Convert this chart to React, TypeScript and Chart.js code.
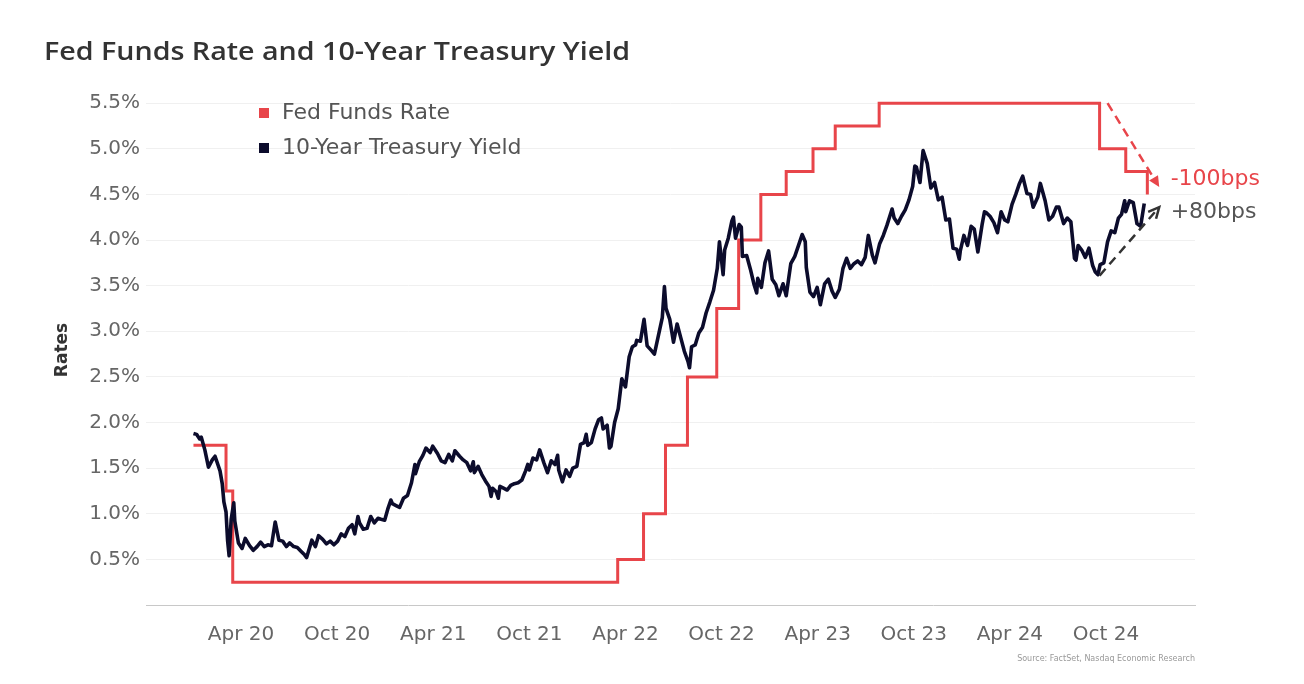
import React, { useEffect, useRef } from 'react';
import { Chart, registerables } from 'chart.js';

Chart.register(...registerables);

const TITLE = 'Fed Funds Rate and 10-Year Treasury Yield';
const SOURCE = 'Source: FactSet, Nasdaq Economic Research';
const Y_TITLE = 'Rates';
const FED_LABEL = 'Fed Funds Rate';
const UST_LABEL = '10-Year Treasury Yield';

const tickDates = ['2020-04-01', '2020-10-01', '2021-04-01', '2021-10-01', '2022-04-01', '2022-10-01', '2023-04-01', '2023-10-01', '2024-04-01', '2024-10-01'];
const tickLabels = ['Apr 20', 'Oct 20', 'Apr 21', 'Oct 21', 'Apr 22', 'Oct 22', 'Apr 23', 'Oct 23', 'Apr 24', 'Oct 24'];
const yTicks = [0.5, 1.0, 1.5, 2.0, 2.5, 3.0, 3.5, 4.0, 4.5, 5.0, 5.5];

// Fed funds (upper bound) changes
const fedDates = ['2020-01-02', '2020-03-03', '2020-03-16', '2022-03-17', '2022-05-05', '2022-06-16', '2022-07-28', '2022-09-22', '2022-11-03', '2022-12-15', '2023-02-02', '2023-03-23', '2023-05-04', '2023-07-27', '2024-09-19', '2024-11-08', '2024-12-19'];
const fedRates = [1.75, 1.25, 0.25, 0.5, 1.0, 1.75, 2.5, 3.25, 4.0, 4.5, 4.75, 5.0, 5.25, 5.5, 5.0, 4.75, 4.5];

// 10-year Treasury yield
const yield2020: [string, number][] = [
  ['2020-01-02', 1.88], ['2020-01-08', 1.87], ['2020-01-14', 1.82], ['2020-01-17', 1.84], ['2020-01-24', 1.7], ['2020-01-31', 1.51],
  ['2020-02-07', 1.59], ['2020-02-12', 1.63], ['2020-02-21', 1.47], ['2020-02-25', 1.33], ['2020-02-28', 1.13], ['2020-03-03', 1.02],
  ['2020-03-06', 0.71], ['2020-03-09', 0.54], ['2020-03-13', 0.94], ['2020-03-18', 1.12], ['2020-03-20', 0.92], ['2020-03-27', 0.68],
  ['2020-04-03', 0.62], ['2020-04-09', 0.73], ['2020-04-17', 0.65], ['2020-04-24', 0.6], ['2020-05-01', 0.64], ['2020-05-08', 0.69],
  ['2020-05-15', 0.64], ['2020-05-22', 0.66], ['2020-05-29', 0.65], ['2020-06-05', 0.91], ['2020-06-12', 0.71], ['2020-06-19', 0.7],
  ['2020-06-26', 0.64], ['2020-07-02', 0.68], ['2020-07-10', 0.64], ['2020-07-17', 0.63], ['2020-07-24', 0.59], ['2020-07-31', 0.55],
  ['2020-08-04', 0.52], ['2020-08-14', 0.71], ['2020-08-21', 0.64], ['2020-08-27', 0.76], ['2020-09-04', 0.72], ['2020-09-11', 0.67],
  ['2020-09-18', 0.7], ['2020-09-25', 0.66], ['2020-10-02', 0.7], ['2020-10-09', 0.78], ['2020-10-16', 0.75], ['2020-10-23', 0.84],
  ['2020-10-30', 0.88], ['2020-11-04', 0.78], ['2020-11-10', 0.97], ['2020-11-13', 0.9], ['2020-11-20', 0.83], ['2020-11-27', 0.84],
  ['2020-12-04', 0.97], ['2020-12-11', 0.9], ['2020-12-18', 0.95], ['2020-12-24', 0.94], ['2020-12-31', 0.93],
];
const yield2021: [string, number][] = [
  ['2021-01-06', 1.05], ['2021-01-12', 1.15], ['2021-01-15', 1.11], ['2021-01-22', 1.09], ['2021-01-29', 1.07], ['2021-02-05', 1.17],
  ['2021-02-12', 1.2], ['2021-02-19', 1.34], ['2021-02-25', 1.54], ['2021-02-26', 1.44], ['2021-03-05', 1.57], ['2021-03-12', 1.64],
  ['2021-03-18', 1.72], ['2021-03-26', 1.67], ['2021-03-31', 1.74], ['2021-04-09', 1.66], ['2021-04-16', 1.58], ['2021-04-23', 1.56],
  ['2021-04-30', 1.65], ['2021-05-07', 1.58], ['2021-05-12', 1.69], ['2021-05-21', 1.63], ['2021-05-28', 1.59], ['2021-06-04', 1.56],
  ['2021-06-11', 1.47], ['2021-06-16', 1.57], ['2021-06-18', 1.45], ['2021-06-25', 1.52], ['2021-07-02', 1.43], ['2021-07-09', 1.36],
  ['2021-07-16', 1.3], ['2021-07-20', 1.19], ['2021-07-23', 1.28], ['2021-07-30', 1.24], ['2021-08-03', 1.17], ['2021-08-06', 1.3],
  ['2021-08-13', 1.28], ['2021-08-20', 1.26], ['2021-08-27', 1.31], ['2021-09-03', 1.33], ['2021-09-10', 1.34], ['2021-09-17', 1.37],
  ['2021-09-24', 1.47], ['2021-09-28', 1.54], ['2021-10-01', 1.48], ['2021-10-08', 1.61], ['2021-10-15', 1.59], ['2021-10-21', 1.7],
  ['2021-10-29', 1.56], ['2021-11-05', 1.45], ['2021-11-12', 1.58], ['2021-11-19', 1.54], ['2021-11-24', 1.64], ['2021-11-26', 1.48],
  ['2021-12-03', 1.35], ['2021-12-10', 1.48], ['2021-12-17', 1.41], ['2021-12-23', 1.5], ['2021-12-31', 1.52],
];
const yield2022: [string, number][] = [
  ['2022-01-04', 1.66], ['2022-01-07', 1.76], ['2022-01-14', 1.78], ['2022-01-18', 1.87], ['2022-01-21', 1.75], ['2022-01-28', 1.78],
  ['2022-02-04', 1.93], ['2022-02-10', 2.03], ['2022-02-15', 2.05], ['2022-02-18', 1.93], ['2022-02-25', 1.97], ['2022-03-01', 1.72],
  ['2022-03-04', 1.74], ['2022-03-11', 2.0], ['2022-03-18', 2.15], ['2022-03-25', 2.48], ['2022-04-01', 2.39], ['2022-04-08', 2.72],
  ['2022-04-14', 2.83], ['2022-04-20', 2.85], ['2022-04-22', 2.9], ['2022-04-29', 2.89], ['2022-05-06', 3.13], ['2022-05-12', 2.84],
  ['2022-05-20', 2.79], ['2022-05-26', 2.75], ['2022-06-03', 2.96], ['2022-06-10', 3.15], ['2022-06-14', 3.49], ['2022-06-17', 3.25],
  ['2022-06-24', 3.13], ['2022-07-01', 2.88], ['2022-07-08', 3.08], ['2022-07-15', 2.93], ['2022-07-22', 2.78], ['2022-07-29', 2.67],
  ['2022-08-01', 2.6], ['2022-08-05', 2.83], ['2022-08-12', 2.85], ['2022-08-19', 2.98], ['2022-08-26', 3.04], ['2022-09-02', 3.2],
  ['2022-09-09', 3.32], ['2022-09-16', 3.45], ['2022-09-23', 3.69], ['2022-09-27', 3.98], ['2022-09-30', 3.83], ['2022-10-04', 3.62],
  ['2022-10-07', 3.89], ['2022-10-14', 4.02], ['2022-10-21', 4.21], ['2022-10-24', 4.25], ['2022-10-28', 4.02], ['2022-11-04', 4.17],
  ['2022-11-08', 4.14], ['2022-11-10', 3.82], ['2022-11-18', 3.83], ['2022-11-25', 3.68], ['2022-12-02', 3.51], ['2022-12-07', 3.42],
  ['2022-12-09', 3.58], ['2022-12-16', 3.48], ['2022-12-23', 3.75], ['2022-12-30', 3.88],
];
const yield2023: [string, number][] = [
  ['2023-01-06', 3.57], ['2023-01-13', 3.51], ['2023-01-19', 3.39], ['2023-01-27', 3.52], ['2023-02-02', 3.39], ['2023-02-10', 3.74],
  ['2023-02-17', 3.82], ['2023-02-24', 3.95], ['2023-03-02', 4.06], ['2023-03-08', 3.98], ['2023-03-10', 3.7], ['2023-03-17', 3.43],
  ['2023-03-24', 3.38], ['2023-03-31', 3.48], ['2023-04-06', 3.29], ['2023-04-14', 3.52], ['2023-04-21', 3.57], ['2023-04-28', 3.44],
  ['2023-05-04', 3.37], ['2023-05-12', 3.46], ['2023-05-19', 3.69], ['2023-05-26', 3.8], ['2023-06-02', 3.69], ['2023-06-09', 3.74],
  ['2023-06-16', 3.77], ['2023-06-23', 3.73], ['2023-06-30', 3.81], ['2023-07-06', 4.05], ['2023-07-14', 3.83], ['2023-07-19', 3.75],
  ['2023-07-28', 3.96], ['2023-08-04', 4.05], ['2023-08-11', 4.16], ['2023-08-21', 4.34], ['2023-08-25', 4.24], ['2023-09-01', 4.18],
  ['2023-09-08', 4.26], ['2023-09-15', 4.33], ['2023-09-22', 4.44], ['2023-09-29', 4.59], ['2023-10-03', 4.81], ['2023-10-06', 4.8],
  ['2023-10-13', 4.63], ['2023-10-19', 4.98], ['2023-10-27', 4.84], ['2023-11-03', 4.57], ['2023-11-10', 4.63], ['2023-11-17', 4.44],
  ['2023-11-24', 4.47], ['2023-12-01', 4.22], ['2023-12-08', 4.23], ['2023-12-15', 3.91], ['2023-12-22', 3.9], ['2023-12-27', 3.79],
  ['2023-12-29', 3.88],
];
const yield2024: [string, number][] = [
  ['2024-01-05', 4.05], ['2024-01-12', 3.94], ['2024-01-19', 4.15], ['2024-01-25', 4.12], ['2024-02-01', 3.87], ['2024-02-09', 4.18],
  ['2024-02-13', 4.31], ['2024-02-16', 4.3], ['2024-02-23', 4.26], ['2024-03-01', 4.19], ['2024-03-08', 4.08], ['2024-03-15', 4.31],
  ['2024-03-22', 4.22], ['2024-03-28', 4.2], ['2024-04-05', 4.39], ['2024-04-12', 4.5], ['2024-04-19', 4.62], ['2024-04-25', 4.7],
  ['2024-05-03', 4.51], ['2024-05-10', 4.5], ['2024-05-15', 4.36], ['2024-05-24', 4.47], ['2024-05-29', 4.62], ['2024-06-07', 4.43],
  ['2024-06-14', 4.22], ['2024-06-21', 4.26], ['2024-06-28', 4.36], ['2024-07-03', 4.36], ['2024-07-12', 4.18], ['2024-07-19', 4.24],
  ['2024-07-26', 4.2], ['2024-08-02', 3.8], ['2024-08-05', 3.78], ['2024-08-09', 3.94], ['2024-08-16', 3.89], ['2024-08-23', 3.81],
  ['2024-08-30', 3.91], ['2024-09-06', 3.72], ['2024-09-11', 3.65], ['2024-09-16', 3.62], ['2024-09-20', 3.73], ['2024-09-27', 3.75],
  ['2024-10-04', 3.98], ['2024-10-11', 4.1], ['2024-10-18', 4.08], ['2024-10-25', 4.24], ['2024-10-31', 4.28], ['2024-11-06', 4.43],
  ['2024-11-08', 4.31], ['2024-11-15', 4.43], ['2024-11-22', 4.41], ['2024-11-29', 4.18], ['2024-12-06', 4.15], ['2024-12-13', 4.4],
];

// Annotations
const cutArrowDates = ['2024-10-04', '2025-01-11'];
const cutArrowRates = [5.5, 4.58];
const riseArrowDates = ['2024-09-19', '2025-01-11'];
const riseArrowRates = [3.61, 4.36];
const annotationLabels = ['-100bps', '+80bps'];
const annotationLabelDates = ['2025-02-02', '2025-02-02'];
const annotationLabelRates = [4.66, 4.3];

const RED = '#E8454A';
const NAVY = '#0C0C2C';
const TITLE_FONT = '"Open Sans", sans-serif';
const FONT = '"DejaVu Sans", sans-serif';

function toMonth(d: string): number {
  const [y, m, day] = d.split('-').map(Number);
  const dim = new Date(y, m, 0).getDate();
  return (y - 2020) * 12 + (m - 1) + (day - 1) / dim;
}

function drawArrow(ctx: CanvasRenderingContext2D, x0: number, y0: number, x1: number, y1: number, color: string, filled: boolean) {
  const ang = Math.atan2(y1 - y0, x1 - x0);
  const headLen = 12;
  ctx.save();
  ctx.strokeStyle = color;
  ctx.fillStyle = color;
  ctx.lineWidth = 2.5;
  ctx.setLineDash([9, 6]);
  ctx.beginPath();
  ctx.moveTo(x0, y0);
  ctx.lineTo(x1 - Math.cos(ang) * 4, y1 - Math.sin(ang) * 4);
  ctx.stroke();
  ctx.setLineDash([]);
  const a1 = ang + Math.PI - 0.45;
  const a2 = ang + Math.PI + 0.45;
  ctx.beginPath();
  ctx.moveTo(x1 + Math.cos(a1) * headLen, y1 + Math.sin(a1) * headLen);
  ctx.lineTo(x1, y1);
  ctx.lineTo(x1 + Math.cos(a2) * headLen, y1 + Math.sin(a2) * headLen);
  if (filled) {
    ctx.closePath();
    ctx.fill();
  } else {
    ctx.stroke();
  }
  ctx.restore();
}

const overlayPlugin = {
  id: 'overlay',
  afterDraw(chart: any) {
    const { ctx } = chart;
    const x = chart.scales.x;
    const y = chart.scales.y;
    ctx.save();
    // Title (stretched to the reference's width)
    ctx.fillStyle = '#333333';
    ctx.font = `600 25px ${TITLE_FONT}`;
    ctx.textAlign = 'left';
    ctx.textBaseline = 'middle';
    const tw = ctx.measureText(TITLE).width;
    ctx.save();
    ctx.translate(44, 53);
    ctx.scale(586 / tw, 1);
    ctx.fillText(TITLE, 0, 0);
    ctx.restore();

    // Y title
    ctx.save();
    ctx.translate(63, 350);
    ctx.rotate(-Math.PI / 2);
    ctx.textAlign = 'center';
    ctx.font = `bold 17px ${FONT}`;
    ctx.fillStyle = '#333333';
    ctx.fillText(Y_TITLE, 0, 0);
    ctx.restore();

    // Legend
    const legendItems = [
      { label: FED_LABEL, color: RED },
      { label: UST_LABEL, color: NAVY },
    ];
    legendItems.forEach((it, i) => {
      const cy = 113 + i * 35;
      ctx.fillStyle = it.color;
      ctx.fillRect(259, cy - 5, 10, 10);
      ctx.fillStyle = '#555555';
      ctx.font = `22px ${FONT}`;
      ctx.textAlign = 'left';
      ctx.fillText(it.label, 282, cy);
    });

    // Source
    ctx.fillStyle = '#999999';
    ctx.font = `8px ${FONT}`;
    ctx.textAlign = 'right';
    ctx.fillText(SOURCE, 1195, 659);

    // Arrows
    drawArrow(
      ctx,
      x.getPixelForValue(toMonth(cutArrowDates[0])), y.getPixelForValue(cutArrowRates[0]),
      x.getPixelForValue(toMonth(cutArrowDates[1])), y.getPixelForValue(cutArrowRates[1]),
      RED, true,
    );
    drawArrow(
      ctx,
      x.getPixelForValue(toMonth(riseArrowDates[0])), y.getPixelForValue(riseArrowRates[0]),
      x.getPixelForValue(toMonth(riseArrowDates[1])), y.getPixelForValue(riseArrowRates[1]),
      '#333333', false,
    );
    const labelColors = [RED, '#555555'];
    annotationLabels.forEach((t, i) => {
      ctx.fillStyle = labelColors[i];
      ctx.font = `22px ${FONT}`;
      ctx.textAlign = 'left';
      ctx.textBaseline = 'middle';
      ctx.fillText(t, x.getPixelForValue(toMonth(annotationLabelDates[i])), y.getPixelForValue(annotationLabelRates[i]));
    });
    ctx.restore();
  },
};

export default function App() {
  const ref = useRef<HTMLCanvasElement | null>(null);
  useEffect(() => {
    if (!ref.current) return;
    const allYields = [...yield2020, ...yield2021, ...yield2022, ...yield2023, ...yield2024];
    const chart = new Chart(ref.current, {
      type: 'line',
      data: {
        datasets: [
          {
            label: FED_LABEL,
            data: fedDates.map((d, i) => ({ x: toMonth(d), y: fedRates[i] })),
            borderColor: RED,
            borderWidth: 3,
            stepped: 'before',
            pointRadius: 0,
            order: 1,
          },
          {
            label: UST_LABEL,
            data: allYields.map(([d, v]) => ({ x: toMonth(d), y: v })),
            borderColor: NAVY,
            borderWidth: 3.6,
            pointRadius: 0,
            tension: 0,
            borderJoinStyle: 'round',
            order: 0,
          },
        ],
      },
      options: {
        animation: false,
        responsive: false,
        devicePixelRatio: 1,
        layout: { padding: { left: 0, right: 109, top: 94, bottom: 0 } },
        plugins: { legend: { display: false }, tooltip: { enabled: false }, title: { display: false } },
        scales: {
          x: {
            type: 'linear',
            min: -2.931,
            max: 62.556,
            grid: { display: false },
            border: { display: true, dash: [2, 3], color: '#c8c8c8', width: 1 },
            afterBuildTicks: (scale: any) => {
              scale.ticks = tickDates.map((d) => ({ value: toMonth(d) }));
            },
            afterFit: (scale: any) => {
              scale.height = 79;
            },
            ticks: {
              autoSkip: false,
              maxRotation: 0,
              padding: 10,
              color: '#666666',
              font: { family: FONT, size: 20 },
              callback: (_v: any, i: number) => tickLabels[i],
            },
          },
          y: {
            type: 'linear',
            min: 0,
            max: 5.6,
            grid: { color: '#f0f0f0', lineWidth: 1, drawTicks: false },
            border: { display: false },
            afterBuildTicks: (scale: any) => {
              scale.ticks = yTicks.map((v) => ({ value: v }));
            },
            afterFit: (scale: any) => {
              scale.width = 146;
            },
            ticks: {
              padding: 6,
              color: '#666666',
              font: { family: FONT, size: 20 },
              callback: (v: any) => Number(v).toFixed(1) + '%',
            },
          },
        },
      },
      plugins: [overlayPlugin],
    });
    return () => chart.destroy();
  }, []);
  return (
    <div style={{ position: 'fixed', left: 0, top: 0, width: 1304, height: 684, background: '#ffffff' }}>
      <canvas ref={ref} width={1304} height={684} />
    </div>
  );
}
